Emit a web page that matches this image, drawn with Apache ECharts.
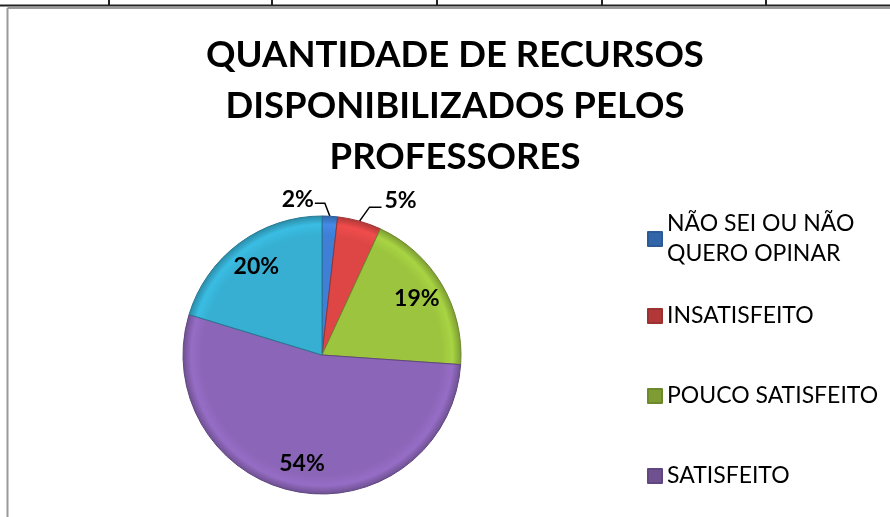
<!DOCTYPE html>
<html>
<head>
<meta charset="utf-8">
<script src="https://cdn.jsdelivr.net/npm/echarts@6/dist/echarts.min.js"></script>
<style>
  html, body { margin: 0; padding: 0; background: #fff; }
  #chart { width: 890px; height: 517px; }
</style>
</head>
<body>
<div id="chart"></div>
<script>
const categories = ['NÃO SEI OU NÃO QUERO OPINAR', 'INSATISFEITO', 'POUCO SATISFEITO', 'SATISFEITO', 'MUITO SATISFEITO'];
const percentages = [1.8, 5.1, 19.2, 53.6, 20.3];
const legendNames = categories.slice(0, 4);
const colors = ['#3f80d6', '#de4646', '#9cc43e', '#8b65b7', '#36afd2'];
const titleText = 'QUANTIDADE DE RECURSOS\nDISPONIBILIZADOS PELOS\nPROFESSORES';

const FONT = 'Lato, "Open Sans", sans-serif';
const cx = 322;
const cy = 355;
const radius = 139;
const outsideLabels = [0, 1];
const legendTops = [194, 301, 381, 461];
const tableEdges = [109, 272, 437, 602, 766];

function shade(hex, f) {
  const n = parseInt(hex.slice(1), 16);
  const ch = [(n >> 16) & 255, (n >> 8) & 255, n & 255].map((c) => Math.round(Math.min(255, Math.max(0, c * f))));
  return `rgb(${ch.join(',')})`;
}

function sliceFill(color) {
  return {
    type: 'radial', x: cx, y: cy, r: radius, global: true,
    colorStops: [
      {offset: 0, color: color},
      {offset: 0.86, color: color},
      {offset: 0.94, color: shade(color, 1.08)},
      {offset: 1, color: shade(color, 0.8)}
    ]
  };
}

function placeLabel(params) {
  const pts = params.labelLinePoints;
  if (params.dataIndex === 0 && pts) {
    const p = pts[0];
    return {
      x: p[0] - 16, y: p[1] - 17, align: 'right', verticalAlign: 'middle',
      labelLinePoints: [p, [p[0] - 5, p[1] - 13], [p[0] - 15, p[1] - 13]]
    };
  }
  if (params.dataIndex === 1 && pts) {
    const p = pts[0];
    return {
      x: p[0] + 25, y: p[1] - 21, align: 'left', verticalAlign: 'middle',
      labelLinePoints: [p, [p[0] + 10, p[1] - 14], [p[0] + 22, p[1] - 14]]
    };
  }
  const r = params.labelRect;
  const lx = r.x + r.width / 2;
  const ly = r.y + r.height / 2;
  return {
    x: cx + (lx - cx) * 1.52, y: cy + (ly - cy) * 1.52,
    align: 'center', verticalAlign: 'middle'
  };
}

const chart = echarts.init(document.getElementById('chart'));

const graphics = [
  {type: 'line', shape: {x1: 0, y1: 5.5, x2: 890, y2: 5.5}, style: {stroke: '#222', lineWidth: 2}},
  {type: 'line', shape: {x1: 7.5, y1: 8, x2: 890, y2: 8}, style: {stroke: '#9a9a9a', lineWidth: 2}},
  {type: 'line', shape: {x1: 7.5, y1: 8, x2: 7.5, y2: 517}, style: {stroke: '#9a9a9a', lineWidth: 2}}
].concat(tableEdges.map((x) => ({
  type: 'line', shape: {x1: x, y1: 0, x2: x, y2: 6}, style: {stroke: '#222', lineWidth: 2}
})));

chart.setOption({
  animation: false,
  backgroundColor: '#fff',
  title: {
    text: titleText,
    left: 450,
    top: 25,
    textAlign: 'center',
    textStyle: {fontFamily: FONT, fontWeight: 'bold', fontSize: 36.5, lineHeight: 51, color: '#000'}
  },
  legend: legendNames.map((name, i) => ({
    data: [name],
    orient: 'vertical',
    left: 647,
    top: legendTops[i],
    padding: 0,
    icon: 'rect',
    itemWidth: 14,
    itemHeight: 14,
    selectedMode: false,
    formatter: (n) => n === categories[0] ? 'NÃO SEI OU NÃO\nQUERO OPINAR' : n,
    textStyle: {
      fontFamily: FONT, fontSize: 23, lineHeight: 30, color: '#000',
      padding: i === 0 ? [30, 0, 0, 0] : 0
    }
  })),
  graphic: graphics,
  series: [{
    type: 'pie',
    center: [cx, cy],
    radius: radius,
    startAngle: 90,
    clockwise: true,
    avoidLabelOverlap: false,
    data: categories.map((name, i) => ({
      name: name,
      value: percentages[i],
      itemStyle: {color: sliceFill(colors[i]), borderColor: shade(colors[i], 0.7), borderWidth: 1},
      label: {position: outsideLabels.includes(i) ? 'outside' : 'inside'},
      labelLine: {show: outsideLabels.includes(i)}
    })),
    label: {
      formatter: (p) => Math.round(p.percent) + '%',
      fontFamily: FONT, fontWeight: 'bold', fontSize: 23, color: '#000'
    },
    labelLine: {length: 10, length2: 10, lineStyle: {color: '#000', width: 1.5}},
    labelLayout: placeLabel,
    emphasis: {disabled: true}
  }]
});
</script>
</body>
</html>
